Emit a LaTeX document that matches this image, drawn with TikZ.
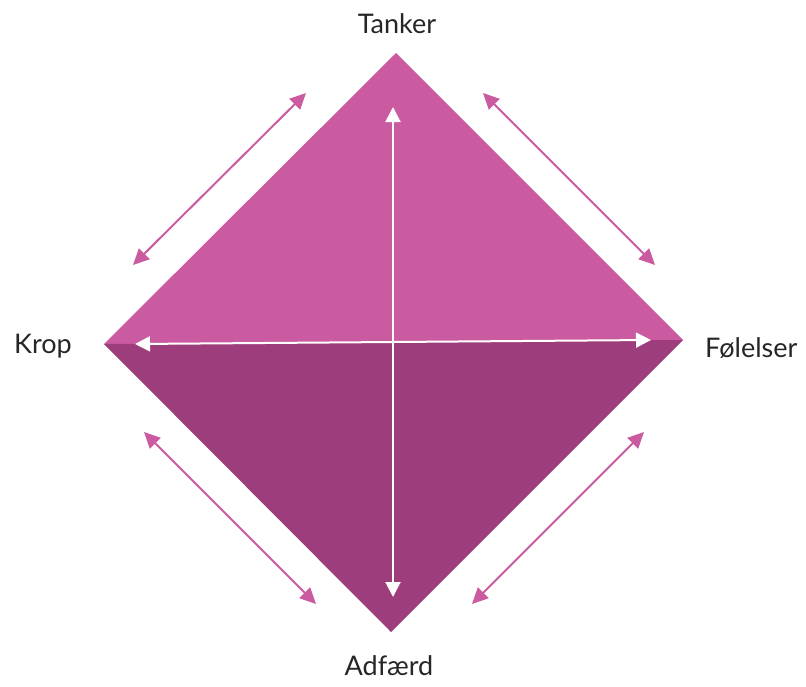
\documentclass[tikz,border=0pt]{standalone}
\usepackage{fontspec}
\setmainfont{Lato}
\usetikzlibrary{arrows.meta}
\definecolor{upperpink}{HTML}{CB5BA0}
\definecolor{lowerplum}{HTML}{9E3D7B}
\definecolor{arrowpink}{HTML}{CB5BA0}
\tikzset{
  x=1pt, y=-1pt,
  lbl/.style={font=\fontsize{27}{30}\selectfont, text=black!85, inner sep=0pt},
  sidearrow/.style={draw=arrowpink, line width=2pt, {Triangle[length=16pt,width=15pt]}-{Triangle[length=16pt,width=15pt]}, shorten <=0pt, shorten >=0pt},
  whitearrow/.style={draw=white, line width=2pt, {Triangle[length=15pt,width=15pt]}-{Triangle[length=15pt,width=15pt]}}
}
\begin{document}
\begin{tikzpicture}
\useasboundingbox (0,0) rectangle (806,686);
\coordinate (T) at (396,53);
\coordinate (L) at (104,344);
\coordinate (R) at (683,340);
\coordinate (B) at (391,632);
\fill[upperpink] (T) -- (R) -- (L) -- cycle;
\fill[lowerplum] (L) -- (R) -- (B) -- cycle;
% white arrows
\coordinate (hl) at (135,344);
\coordinate (hr) at (651,340);
\coordinate (vt) at (393,107);
\coordinate (vb) at (393,597);
\draw[whitearrow] (hl) -- (hr);
\draw[whitearrow] (vt) -- (vb);
% side arrows
\coordinate (a1) at (133,265); \coordinate (a2) at (306,93);
\coordinate (b1) at (483,93);  \coordinate (b2) at (655,265);
\coordinate (c1) at (144,432); \coordinate (c2) at (316,604);
\coordinate (d1) at (644,432); \coordinate (d2) at (472,604);
\draw[sidearrow] (a1) -- (a2);
\draw[sidearrow] (b1) -- (b2);
\draw[sidearrow] (c1) -- (c2);
\draw[sidearrow] (d1) -- (d2);
% labels
\node[lbl] (tanker) at (397,24) {Tanker};
\node[lbl, anchor=west] (krop) at (14,346) {Krop};
\node[lbl, anchor=west] (folelser) at (705,348) {Følelser};
\node[lbl] (adfaerd) at (389,666) {Adfærd};
\end{tikzpicture}
\end{document}
